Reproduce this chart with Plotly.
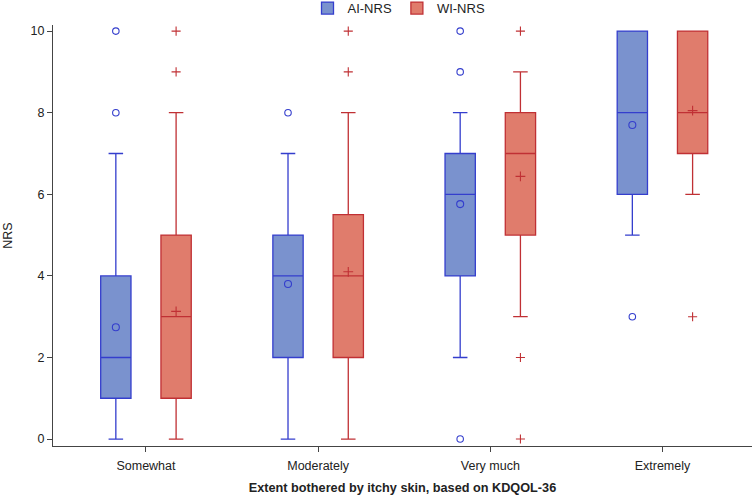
import plotly.graph_objects as go

categories = ["Somewhat", "Moderately", "Very much", "Extremely"]

# AI-NRS box statistics
ai_q1 = [1, 2, 4, 6]
ai_median = [2, 4, 6, 8]
ai_q3 = [4, 5, 7, 10]
ai_lower = [0, 0, 2, 5]
ai_upper = [7, 7, 8, 10]
ai_mean = [2.74, 3.8, 5.76, 7.7]
ai_outliers = [[8, 10], [8], [9, 10, 0], [3]]

# WI-NRS box statistics
wi_q1 = [1, 2, 5, 7]
wi_median = [3, 4, 7, 8]
wi_q3 = [5, 5.5, 8, 10]
wi_lower = [0, 0, 3, 6]
wi_upper = [8, 8, 9, 10]
wi_mean = [3.13, 4.1, 6.44, 8.05]
wi_outliers = [[9, 10], [9, 10], [10, 2, 0], [3]]

y_ticks = [0, 2, 4, 6, 8, 10]

AI_FILL = "rgb(122,146,206)"
AI_LINE = "rgb(52,62,205)"
WI_FILL = "rgb(224,124,108)"
WI_LINE = "rgb(192,48,52)"

OFF = 0.175
BW = 0.176
pos = list(range(len(categories)))

fig = go.Figure()

def add_series(name, q1, med, q3, lo, hi, mean, outl, fill, line, sign, sym):
    xs = [p + sign * OFF for p in pos]
    fig.add_trace(go.Box(
        name=name, x=xs, q1=q1, median=med, q3=q3,
        lowerfence=lo, upperfence=hi, width=BW,
        fillcolor=fill, line=dict(color=line, width=1.3),
        whiskerwidth=0.48, boxpoints=False, showlegend=True,
    ))
    fig.add_trace(go.Scatter(
        x=xs, y=mean, mode="markers", showlegend=False,
        marker=dict(symbol=sym, size=7, color=line, line=dict(color=line, width=1.1)),
    ))
    ox, oy = [], []
    for x, vals in zip(xs, outl):
        for v in vals:
            ox.append(x)
            oy.append(v)
    fig.add_trace(go.Scatter(
        x=ox, y=oy, mode="markers", showlegend=False,
        marker=dict(symbol=sym, size=6.5, color=line, line=dict(color=line, width=1.1)),
    ))

add_series("AI-NRS", ai_q1, ai_median, ai_q3, ai_lower, ai_upper, ai_mean, ai_outliers,
           AI_FILL, AI_LINE, -1, "circle-open")
add_series("WI-NRS", wi_q1, wi_median, wi_q3, wi_lower, wi_upper, wi_mean, wi_outliers,
           WI_FILL, WI_LINE, 1, "cross-thin")

fig.update_layout(
    width=756, height=495,
    margin=dict(l=53, r=4, t=25, b=49, autoexpand=False),
    paper_bgcolor="white", plot_bgcolor="white",
    font=dict(family="Liberation Sans, Arial, sans-serif", size=12, color="#222"),
    legend=dict(orientation="h", x=0.495, xanchor="center", yref="paper", y=1.04,
                yanchor="middle", font=dict(size=13), itemwidth=30, tracegroupgap=0),
    xaxis=dict(
        range=[-0.54, 3.52], tickmode="array", tickvals=pos, ticktext=categories,
        showline=True, linecolor="#444", linewidth=1, ticks="outside", ticklen=5,
        tickcolor="#444", showgrid=False, zeroline=False, ticklabelstandoff=3,
        tickfont=dict(size=12.5),
        title=dict(text="<b>Extent bothered by itchy skin, based on KDQOL-36</b>",
                   font=dict(size=12.7), standoff=12),
    ),
    yaxis=dict(
        range=[-0.17, 10.15], tickmode="array", tickvals=y_ticks,
        showline=True, linecolor="#444", linewidth=1, ticks="outside", ticklen=5,
        tickcolor="#444", showgrid=False, zeroline=False, tickfont=dict(size=12.5),
        title=dict(text="NRS", font=dict(size=12.5), standoff=15),
    ),
)

fig.write_html("out.html", config={"displayModeBar": False},
               post_script="document.body.style.margin='0px';")
